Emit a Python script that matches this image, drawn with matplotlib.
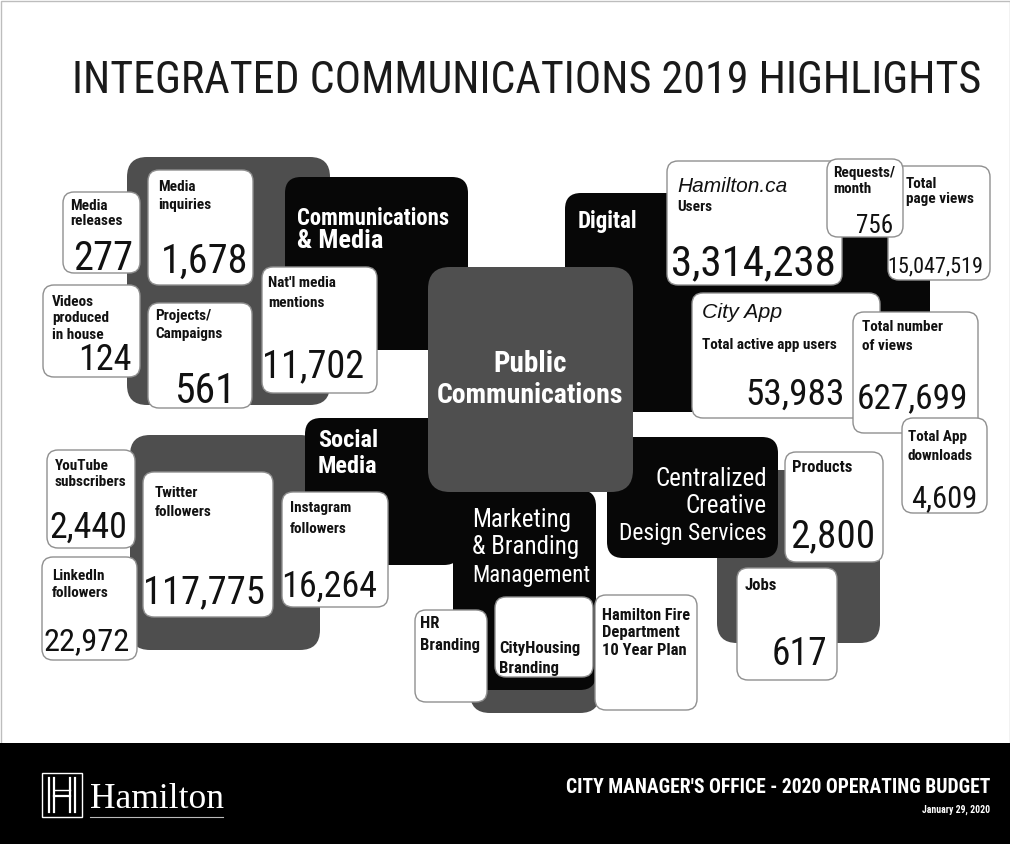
import matplotlib
matplotlib.use("Agg")
import matplotlib.pyplot as plt
from matplotlib.patches import FancyBboxPatch, Rectangle
from matplotlib import font_manager as fm

# ---------------- data ----------------
title = "INTEGRATED COMMUNICATIONS 2019 HIGHLIGHTS"
hub_title = ["Public", "Communications"]
section_titles = [["Communications", "& Media"], ["Digital"], ["Social", "Media"],
                  ["Marketing", "& Branding", "Management"],
                  ["Centralized", "Creative", "Design Services"]]
comm_labels = [["Media", "releases"], ["Media", "inquiries"], ["Videos", "produced", "in house"],
               ["Projects/", "Campaigns"], ["Nat'l media", "mentions"]]
comm_values = [277, 1678, 124, 561, 11702]
digital_headers = ["Hamilton.ca", "City App"]
digital_labels = [["Users"], ["Requests/", "month"], ["Total", "page views"],
                  ["Total active app users"], ["Total number", "of views"], ["Total App", "downloads"]]
digital_values = [3314238, 756, 15047519, 53983, 627699, 4609]
social_labels = [["YouTube", "subscribers"], ["LinkedIn", "followers"],
                 ["Twitter", "followers"], ["Instagram", "followers"]]
social_values = [2440, 22972, 117775, 16264]
marketing_labels = [["HR", "Branding"], ["CityHousing", "Branding"],
                    ["Hamilton Fire", "Department", "10 Year Plan"]]
design_labels = [["Products"], ["Jobs"]]
design_values = [2800, 617]
footer_org = "Hamilton"
footer_title = "CITY MANAGER'S OFFICE - 2020 OPERATING BUDGET"
footer_date = "January 29, 2020"

# ---------------- fonts ----------------
names = {f.name for f in fm.fontManager.ttflist}
def pick(cands):
    for c in cands:
        if c in names:
            return c
    return "DejaVu Sans"
NARROW = pick(["Roboto Condensed", "Barlow Condensed", "Archivo Narrow",
               "Liberation Sans Narrow", "Liberation Sans"])
SANS = pick(["Liberation Sans", "Roboto", "DejaVu Sans"])
SERIF = pick(["Liberation Serif", "DejaVu Serif"])

# ---------------- layout ----------------
W, H = 1010, 844
fig = plt.figure(figsize=(W / 100, H / 100), dpi=100)
ax = fig.add_axes([0, 0, 1, 1])
ax.set_xlim(0, W)
ax.set_ylim(H, 0)
ax.axis("off")
R = fig.canvas.get_renderer()

BLACK = "#070707"
GRAY = "#4e4e4e"
HUB = "#4f4f4f"
INK = "#111111"


def block(b, fc, r=16, z=1):
    x0, y0, x1, y1 = b
    ax.add_patch(FancyBboxPatch((x0, y0), x1 - x0, y1 - y0,
                                boxstyle=f"round,pad=0,rounding_size={r}",
                                fc=fc, ec="none", lw=0, zorder=z))


def card(b, z, r=11):
    x0, y0, x1, y1 = b
    ax.add_patch(FancyBboxPatch((x0, y0), x1 - x0, y1 - y0,
                                boxstyle=f"round,pad=0,rounding_size={r}",
                                fc="white", ec="#8f8f8f", lw=1.0, zorder=z))


def fit(t, size, maxw):
    w = t.get_window_extent(R).width
    if maxw and w > maxw:
        t.set_fontsize(size * maxw / w)
    return t


def lines(x, ys, texts, size, z, color=INK, weight="bold", ha="left", family=None, maxw=None):
    for yy, s in zip(ys, texts):
        t = ax.text(x, yy, s, fontsize=size, va="baseline", ha=ha, zorder=z,
                    color=color, fontweight=weight, family=family or NARROW)
        fit(t, size, maxw)


def value(xr, yb, v, size, maxw, z):
    t = ax.text(xr, yb, f"{v:,}", fontsize=size, ha="right", va="baseline",
                family=NARROW, color=INK, zorder=z)
    fit(t, size, maxw)


# page frame
ax.add_patch(Rectangle((0.5, 0.5), W - 1, H - 1, fc="none", ec="#bdbdbd", lw=1, zorder=0))

# title
t = ax.text(527, 93, title, ha="center", va="baseline", fontsize=37, color="#1a1a1a",
            family=NARROW, zorder=3)
fit(t, 37, 909)

# background section blocks
for b in [(127, 157, 330, 405), (130, 435, 320, 650), (470, 600, 600, 713), (717, 470, 880, 643)]:
    block(b, GRAY, r=20, z=1)
section_boxes = [(285, 177, 468, 350), (565, 193, 930, 412), (305, 418, 460, 565),
                 (453, 490, 596, 690), (607, 437, 778, 558)]
for b in section_boxes:
    block(b, BLACK, r=16, z=2)
block((428, 267, 633, 492), HUB, r=22, z=3)

# hub title
lines(530, [372, 403], hub_title, 21, 4, color="white", ha="center", maxw=186)

# section titles
sec_text = [
    dict(x=297, ys=[225, 248], size=19, ha="left", w="bold", maxw=152),
    dict(x=578, ys=[228], size=19, ha="left", w="bold", maxw=60),
    dict(x=318, ys=[447, 473], size=19, ha="left", w="bold", maxw=60),
    dict(x=472, ys=[527, 554, 582], size=18, ha="left", w="normal", maxw=118),
    dict(x=767, ys=[486, 513, 540], size=18, ha="right", w="normal", maxw=148),
]
for s, lay in zip(section_titles, sec_text):
    lines(lay["x"], lay["ys"], s, lay["size"], 4, color="white", weight=lay["w"],
          ha=lay["ha"], maxw=lay["maxw"])

LAB = 11

# Communications & Media
comm_layout = [
    dict(box=(63, 192, 140, 273), lab=(70, [210, 225]), val=(133, 270, 32, 60)),
    dict(box=(148, 170, 253, 285), lab=(158, [191, 209]), val=(248, 273, 29, 92)),
    dict(box=(43, 285, 140, 377), lab=(52, [306, 322, 339]), val=(132, 370, 26, 80)),
    dict(box=(148, 303, 252, 408), lab=(155, [320, 338]), val=(236, 403, 30, 80)),
    dict(box=(262, 267, 377, 393), lab=(268, [287, 307]), val=(364, 377, 30, 102)),
]
for lab, v, lay in zip(comm_labels, comm_values, comm_layout):
    card(lay["box"], 5)
    lines(lay["lab"][0], lay["lab"][1], lab, LAB, 6)
    xr, yb, sz, mw = lay["val"]
    value(xr, yb, v, sz, mw, 6)

# Digital
digital_layout = [
    dict(box=(667, 161, 842, 285), lab=(677, [211]), val=(836, 275, 40, 165), z=5),
    dict(box=(827, 159, 903, 237), lab=(833, [177, 193]), val=(893, 233, 18, 62), z=9),
    dict(box=(888, 166, 990, 280), lab=(906, [188, 203]), val=(983, 272, 20, 96), z=7),
    dict(box=(692, 293, 880, 418), lab=(702, [349]), val=(845, 405, 30, 100), z=5),
    dict(box=(853, 312, 978, 433), lab=(862, [331, 350]), val=(968, 408, 33, 112), z=7),
    dict(box=(902, 418, 987, 513), lab=(908, [441, 460]), val=(977, 507, 22, 70), z=9),
]
for lab, v, lay in zip(digital_labels, digital_values, digital_layout):
    z = lay["z"]
    card(lay["box"], z)
    lines(lay["lab"][0], lay["lab"][1], lab, LAB, z + 1,
          maxw=146 if len(lab) == 1 else None)
    xr, yb, sz, mw = lay["val"]
    value(xr, yb, v, sz, mw, z + 1)
header_layout = [(677, 192, 17, 110), (702, 318, 16, 80)]
for h, (x, y, sz, mw) in zip(digital_headers, header_layout):
    t = ax.text(x, y, h, fontsize=sz, style="italic", family=SANS, color=INK,
                va="baseline", zorder=6)
    fit(t, sz, mw)

# Social Media
social_layout = [
    dict(box=(47, 450, 135, 548), lab=(55, [470, 486]), val=(127, 538, 30, 78)),
    dict(box=(42, 557, 137, 660), lab=(52, [580, 597]), val=(130, 650, 27, 86)),
    dict(box=(143, 472, 273, 617), lab=(155, [497, 516]), val=(265, 603, 35, 122)),
    dict(box=(282, 492, 388, 607), lab=(290, [512, 533]), val=(377, 597, 35, 96)),
]
for lab, v, lay in zip(social_labels, social_values, social_layout):
    card(lay["box"], 5)
    lines(lay["lab"][0], lay["lab"][1], lab, LAB, 6)
    xr, yb, sz, mw = lay["val"]
    value(xr, yb, v, sz, mw, 6)

# Marketing & Branding
marketing_layout = [
    dict(box=(415, 610, 487, 702), lab=(420, [628, 650])),
    dict(box=(495, 597, 593, 677), lab=(499, [653, 673])),
    dict(box=(595, 595, 697, 710), lab=(602, [620, 637, 655])),
]
for lab, lay in zip(marketing_labels, marketing_layout):
    card(lay["box"], 5)
    lines(lay["lab"][0], lay["lab"][1], lab, 12, 6, maxw=88)

# Centralized Creative Design Services
design_layout = [
    dict(box=(785, 452, 883, 562), lab=(792, [472]), val=(875, 547, 32, 85)),
    dict(box=(737, 568, 837, 680), lab=(745, [590]), val=(827, 665, 27, 80)),
]
for lab, v, lay in zip(design_labels, design_values, design_layout):
    card(lay["box"], 5)
    lines(lay["lab"][0], lay["lab"][1], lab, 12, 6)
    xr, yb, sz, mw = lay["val"]
    value(xr, yb, v, sz, mw, 6)

# ---------------- footer ----------------
ax.add_patch(Rectangle((0, 743), W, H - 743, fc="black", ec="none", zorder=10))
ax.add_patch(Rectangle((42, 773), 40, 44, fc="none", ec="white", lw=1.0, zorder=11))
for xx in (49, 54, 70, 75):
    ax.plot([xx, xx], [778, 812], color="white", lw=1.6, zorder=11)
ax.plot([54, 70], [796, 796], color="white", lw=1.6, zorder=11)
ax.plot([54, 70], [790, 790], color="white", lw=1.0, zorder=11)
t = ax.text(90, 808, footer_org, fontsize=27, family=SERIF, color="white",
            va="baseline", zorder=11)
fit(t, 27, 134)
ax.plot([90, 223], [817, 817], color="#bbbbbb", lw=0.8, zorder=11)
t = ax.text(990, 793, footer_title, fontsize=15, family=NARROW, fontweight="bold",
            color="white", ha="right", va="baseline", zorder=11)
fit(t, 15, 425)
t = ax.text(990, 813, footer_date, fontsize=9.5, family=NARROW, fontweight="bold",
            color="white", ha="right", va="baseline", zorder=11)
fit(t, 9.5, 68)

fig.savefig("out.png", dpi=100)
